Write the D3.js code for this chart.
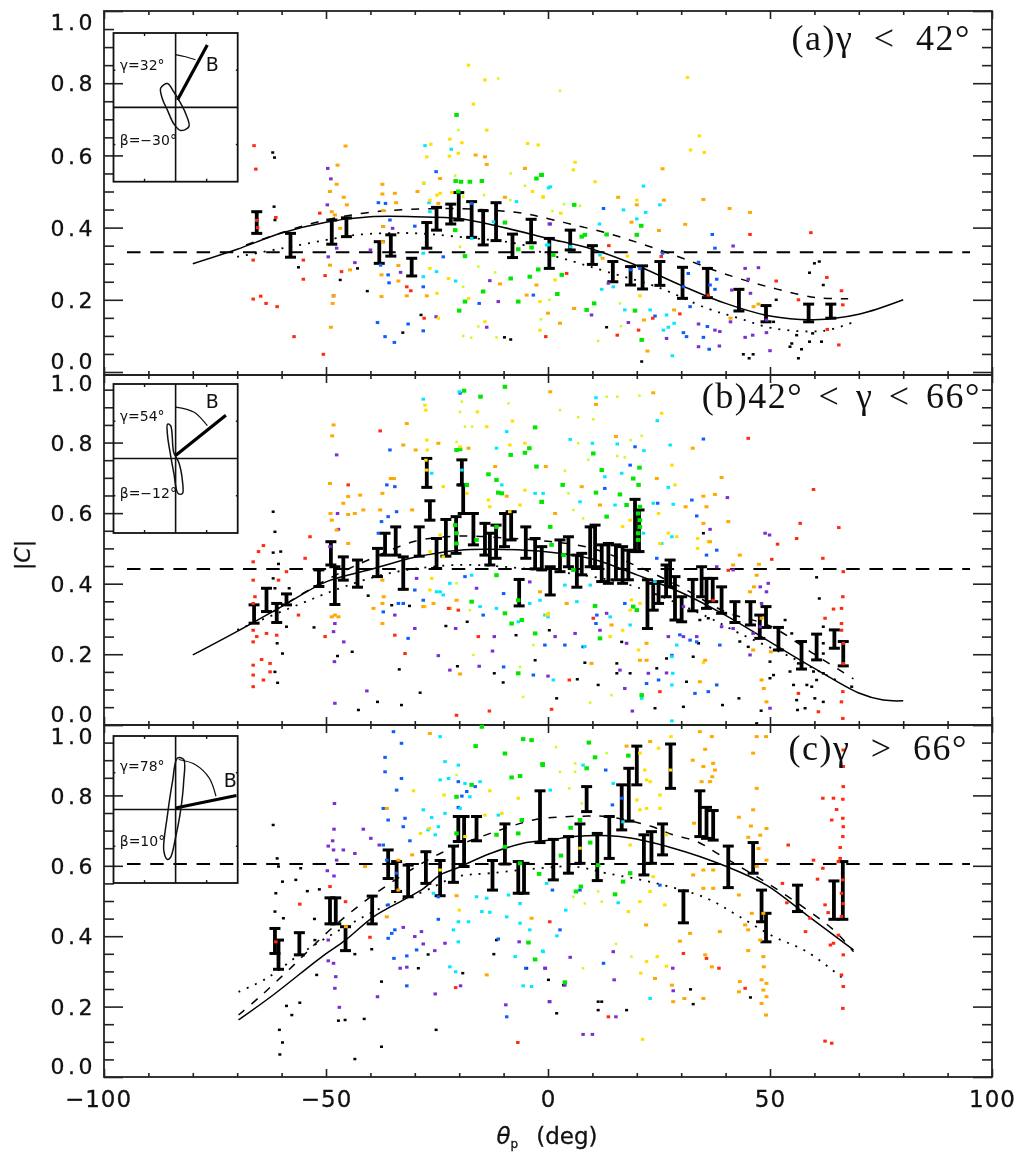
<!DOCTYPE html>
<html>
<head>
<meta charset="utf-8">
<script src="https://cdn.jsdelivr.net/npm/d3@7"></script>
<style>
  html, body { margin: 0; background: #fff; }
  svg { display: block; filter: blur(.45px); }
  text { fill: #111; }
  .lab text, text.lab { font-family: "DejaVu Sans", sans-serif; font-size: 22px; stroke: #111; stroke-width: .3px; }
  .ttl { font-family: "Liberation Serif", serif; font-size: 36px; text-anchor: end; letter-spacing: 1.5px; }
  .ins { font-family: "DejaVu Sans", sans-serif; font-size: 14px; }
</style>
</head>
<body>
<svg id="chart" width="1027" height="1152"></svg>
<script>
// error bars: theta, top, bottom
const aBars = [[-65.6,.444,.384],[-58,.384,.318],[-48.7,.421,.354],[-45.4,.427,.375],[-38,.361,.301],[-35.4,.38,.321],[-30.7,.315,.266],[-27.3,.414,.343],[-25.1,.456,.393],[-21.9,.465,.41],[-20.1,.497,.421],[-17.2,.472,.373],[-14.6,.447,.352],[-11.7,.469,.364],[-8,.382,.317],[-3.8,.423,.358],[.3,.37,.287],[5,.393,.338],[10,.35,.298],[14.6,.306,.25],[18.6,.292,.241],[21.3,.294,.23],[25.2,.306,.24],[30.3,.29,.204],[35.9,.287,.206],[43,.229,.169],[49.1,.184,.139],[58.7,.188,.139],[63.7,.188,.149]];
const bBars = [[-66.2,.34,.288],[-63.4,.387,.321],[-61.1,.344,.29],[-58.9,.371,.34],[-51.6,.439,.392],[-48.9,.519,.453],[-48,.448,.341],[-46.1,.476,.41],[-42.9,.467,.39],[-38.4,.5,.42],[-36.7,.543,.481],[-34.3,.561,.481],[-32.6,.476,.384],[-29,.561,.478],[-25.1,.528,.443],[-27.3,.755,.673],[-26.6,.635,.58],[-23,.582,.478],[-20.7,.59,.486],[-19.4,.751,.68],[-19.1,.68,.599],[-16.8,.599,.51],[-14.2,.571,.481],[-13.1,.543,.453],[-11.7,.566,.472],[-9.8,.599,.505],[-8.3,.604,.524],[-6.5,.412,.337],[-5,.561,.472],[-2.9,.528,.442],[-1.4,.505,.439],[.5,.448,.368],[2.7,.524,.434],[4.6,.533,.448],[6.5,.481,.39],[7.6,.486,.425],[9.5,.561,.448],[10.6,.566,.448],[12.1,.51,.406],[13.6,.514,.401],[15.3,.51,.411],[16.8,.505,.401],[18.1,.495,.411],[19.6,.639,.491],[20.5,.609,.491],[22.4,.411,.273],[23.7,.401,.325],[24.9,.406,.344],[26.6,.453,.363],[27.5,.467,.391],[28.6,.42,.297],[30.1,.363,.292],[32.6,.412,.323],[34.6,.448,.363],[35.7,.415,.33],[37.1,.415,.349],[39.1,.391,.316],[42.1,.349,.29],[45.6,.349,.283],[47.7,.311,.245],[49.1,.335,.276],[51.9,.276,.212],[57.1,.236,.158],[60.5,.257,.184],[64.5,.269,.217],[66.5,.236,.167]];
const cBars = [[-61.5,.422,.351],[-60.7,.389,.306],[-56,.41,.347],[-49.1,.509,.435],[-47.8,.509,.435],[-45.6,.427,.359],[-39.6,.514,.435],[-36,.645,.564],[-34.1,.612,.527],[-31.5,.602,.512],[-27.5,.64,.55],[-24.3,.615,.515],[-21.3,.656,.553],[-20.2,.74,.669],[-18.9,.74,.598],[-16.1,.74,.671],[-12.5,.615,.531],[-9.7,.719,.605],[-6.7,.612,.522],[-5.4,.607,.522],[-1.8,.813,.666],[1.2,.675,.56],[4.6,.683,.579],[7.2,.719,.607],[8.7,.825,.754],[11.1,.692,.558],[13.8,.74,.621],[16.6,.83,.702],[18.2,.877,.727],[20,.94,.83],[21.6,.688,.574],[23.3,.697,.607],[25.8,.719,.631],[27.6,.946,.82],[30.5,.529,.438],[34.2,.813,.683],[35.7,.766,.678],[37.2,.757,.673],[40.6,.656,.538],[46.2,.666,.579],[48.1,.531,.441],[49.1,.465,.384],[56.2,.545,.47],[64.4,.557,.448],[66.4,.612,.448]];

// model curves
const aSolid = [[-80,.3],[-70,.34],[-60,.385],[-50,.415],[-40,.43],[-30,.43],[-20,.425],[-10,.4],[0,.37],[10,.34],[20,.295],[30,.24],[40,.19],[50,.155],[60,.145],[70,.16],[80,.2]];
const aDash = [[-68,.352],[-53.6,.41],[-41.6,.44],[-31.8,.45],[-19,.452],[-5.6,.44],[-1.8,.43],[5,.41],[13.2,.385],[20.6,.357],[29.7,.318],[39.5,.273],[50.8,.232],[60.5,.206],[67.6,.203]];
const aDot = [[-70,.319],[-58,.347],[-48,.37],[-43,.38],[-31.8,.385],[-20.6,.375],[-5.6,.352],[-1.8,.333],[5.7,.306],[13.2,.278],[24.5,.236],[35.7,.177],[43,.149],[50.8,.121],[62,.114],[68.7,.138]];
const bSolid = [[-80,.198],[-70,.265],[-60,.335],[-50,.405],[-40,.44],[-30,.475],[-20,.495],[-10,.497],[0,.49],[10,.47],[20,.425],[30,.375],[40,.31],[50,.235],[60,.16],[70,.09],[75.5,.07],[80,.068]];
const bDash = [[-62,.32],[-50,.41],[-40,.47],[-30,.52],[-20,.535],[-10,.53],[0,.52],[10,.5],[20,.45],[30,.39],[40,.32],[50,.28],[60,.2],[68.8,.13]];
const bDot = [[-70,.269],[-53.6,.354],[-46,.391],[-35.6,.43],[-20.6,.453],[-5.6,.443],[10,.42],[20,.39],[35.7,.307],[43,.26],[54.5,.193],[66,.12]];
const cSolid = [[-69.7,.162],[-61.9,.233],[-50.6,.345],[-45.6,.389],[-39.3,.455],[-31.8,.508],[-28,.536],[-24.3,.574],[-20.6,.593],[-13,.635],[-5.6,.664],[.5,.673],[5.7,.683],[16.2,.683],[28.2,.65],[40.2,.598],[49.2,.545],[58.3,.46],[68.8,.361]];
const cDash = [[-69.7,.176],[-64.9,.228],[-58,.309],[-48.3,.427],[-37.8,.531],[-24.3,.635],[-13,.692],[-3.3,.73],[1.9,.738],[7.9,.741],[13.2,.74],[23,.713],[28.2,.688],[33.5,.669],[38.7,.631],[47,.569],[52.3,.527],[64.3,.418],[68.8,.356]];
const cDot = [[-69.7,.242],[-63.4,.28],[-54.4,.361],[-37,.484],[-28,.527],[-20.6,.569],[-13,.579],[-1.8,.593],[5.7,.598],[13.2,.579],[24.5,.55],[35.7,.508],[43.2,.455],[50.8,.399],[58.3,.356],[67.3,.271]];

// scatter, panel a
const aRed = [[-66.2,.627],[-65.8,.562],[-66.4,.31],[-66.4,.202],[-64.7,.21],[-63.5,.19],[-61,.181],[-57.2,.098],[-50.6,.049],[-51.4,.44],[-61.3,.428],[-55.1,.31],[-55.1,.257],[-50.2,.267],[-46.5,.278],[-31.8,.236],[-30.9,.225],[-27.9,.149],[-.5,.098],[4.2,.273],[13.7,.35],[15.6,.102],[20.4,.116],[23.6,.149],[25.5,.32],[29.7,.161],[36.1,.213],[45.5,.381],[51.4,.252],[56.4,.2],[59.2,.386],[62.8,.262],[66.1,.225],[66.4,.186],[65.5,.075],[62.9,.118],[-65.6,.42],[-65.4,.4]];
const aOrange = [[-45.6,.626],[-47.4,.573],[-47.6,.52],[-49.1,.5],[-46,.484],[-45.3,.463],[-48.7,.444],[-48,.435],[-46.8,.398],[-49.1,.296],[-44.6,.283],[-48.3,.211],[-48.5,.19],[-48.9,.124],[-37.3,.52],[-37.3,.493],[-34.5,.495],[-34.2,.469],[-37.1,.447],[-37.1,.403],[-37.2,.361],[-37.5,.269],[-37.5,.209],[-33.7,.295],[-33.7,.252],[-31.8,.211],[-29.4,.5],[-27.3,.211],[-24.3,.536],[-24.7,.467],[-16.3,.601],[-13.8,.575],[-14.2,.596],[-9.7,.484],[-5.2,.564],[-10.8,.244],[-2.6,.241],[-4.8,.213],[0,.163],[2.7,.135],[5.9,.176],[12.3,.315],[15.8,.484],[20,.463],[18.8,.415],[25,.392],[26.1,.476],[25.8,.563],[35,.478],[30.9,.409],[40.9,.453],[45.5,.442],[28.4,.172],[21.6,.144],[22.4,.058],[46.3,.181],[47.4,.188],[41.1,.149]];
const aYellow = [[-17.9,.85],[-14.2,.809],[-16.8,.742],[-13.8,.67],[-22.1,.645],[-19.4,.635],[-20.2,.606],[-22.2,.598],[-27.3,.596],[-26.4,.631],[-4.6,.633],[-2.2,.629],[-28,.523],[-24.3,.495],[-25,.49],[-21.7,.497],[-26.6,.476],[-3.5,.5],[-1.1,.486],[-26.6,.287],[-22.4,.259],[-25,.218],[-24.7,.149],[-17.9,.204],[-1.8,.195],[-1.8,.116],[-14.2,.139],[6.1,.581],[5.7,.56],[-1.1,.484],[2.9,.44],[10.6,.527],[1.6,.255],[20,.476],[20.7,.211],[17.9,.321],[31.4,.816],[34.1,.654],[32.1,.615],[35.2,.608]];
const aLime = [[-11.2,.813],[-20.2,.67],[-20.9,.544],[-19.1,.486],[-8.4,.55],[-5.2,.516],[-14.4,.49],[-8.5,.476],[-19.1,.236],[-11.9,.276],[-15.7,.292],[-15.7,.126],[-19.1,.1],[-17.3,.095],[-11.6,.096],[-19.8,.347],[2.7,.779],[3.6,.465],[1,.446],[7.2,.46],[.3,.2],[-1.6,.146],[11.3,.086],[16.4,.127],[16.2,.19]];
const aGreen = [[-20.6,.712],[-20.8,.529],[-19.6,.527],[-17.6,.527],[-14.9,.529],[-20.2,.5],[-1.4,.546],[-2.6,.536],[-9.7,.414],[-20.9,.393],[-18.7,.195],[-20,.17],[-6.7,.195],[-14.6,.223],[-8.4,.259],[-4.1,.264],[-2.2,.284],[-6.7,.34],[-3.7,.345],[-18.7,.321],[-1.5,.546],[5.9,.463],[7.6,.375],[8.3,.38],[13.2,.381],[21,.405],[20,.38],[3.1,.269],[1.2,.324],[2.1,.216],[10.4,.19],[8.7,.172],[19.6,.17],[21.1,.089]];
const aCyan = [[-27.7,.627],[-21.8,.617],[-28,.523],[-26.8,.469],[-26.6,.444],[-7.1,.472],[-5.2,.564],[.1,.51],[-17.2,.37],[-12.3,.416],[-28.1,.329],[-25.1,.278],[-28.1,.264],[-20.8,.252],[.1,.352],[.5,.513],[-.3,.352],[21.5,.515],[25.2,.463],[17,.449],[22,.442],[11.6,.41],[20,.424],[5.1,.347],[11.7,.324],[12.1,.229],[14.7,.236],[17.3,.172],[23,.172],[26,.116],[27.1,.124],[28.4,.135],[28,.045],[26.7,.158]];
const aBlue = [[-25.2,.555],[-38.2,.469],[-36.6,.467],[-37.1,.403],[-30,.404],[-35.6,.421],[-17.2,.467],[-37.7,.296],[-36,.269],[-35.8,.247],[-28.1,.236],[-15.5,.19],[-38.4,.137],[-36.7,.098],[-34.6,.082],[-28.1,.114],[-31.5,.133],[-3.3,.213],[-23.6,.319],[12.5,.453],[37,.381],[37.6,.343],[33.9,.304],[31.6,.273],[30.5,.236],[25.8,.329],[18.6,.283],[20.7,.287],[24.1,.155],[30.5,.109],[31.2,.098],[35.9,.126],[36.3,.063],[35,.096],[32,.181],[37.6,.229],[36.5,.241],[38,.257]];
const aPurple = [[-49.6,.564],[-48.9,.535],[-49.7,.463],[-47.6,.343],[-49.5,.319],[-43.5,.303],[-48.3,.211],[-35,.398],[-40,.338],[-33.2,.276],[-25.2,.153],[-13.8,.124],[-11.2,.195],[-13.1,.253],[.3,.41],[41.7,.349],[44.4,.287],[47.4,.289],[45.1,.257],[45.6,.218],[41.4,.227],[41.1,.139],[44.4,.096],[46.1,.102],[50,.059],[38.7,.112],[37.6,.116],[33.9,.07],[38.6,.072],[33.9,.133],[18.1,.137],[26.7,.093],[13.6,.246],[5.9,.176],[9.8,.158],[.5,.41],[49.2,.144],[49.2,.109]];
const aBlack = [[-62,.608],[-61.6,.594],[-61.7,.458],[-61.5,.421],[-56.2,.29],[-46.8,.255],[-42.9,.287],[-40.7,.224],[-32.7,.109],[-28.6,.158],[-9.8,.096],[-8.4,.09],[13.2,.124],[21.1,.029],[44,.049],[45.3,.038],[46.2,.049],[56.4,.038],[57.1,.063],[54.5,.07],[58.9,.084],[61.6,.084],[56,.102],[62,.241],[58.9,.275],[60,.301],[61.1,.306],[51.4,.2],[50.8,.139],[54.9,.079],[59.6,.107]];

// scatter, panel b
const bRed = [[-66.4,.462],[-65.2,.491],[-64.1,.508],[-66.4,.41],[-66,.363],[-66.4,.344],[-66.4,.268],[-65.6,.25],[-66.4,.235],[-66.4,.169],[-66.4,.141],[-66.4,.108],[-64.5,.185],[-62.6,.174],[-64.1,.127],[-62.6,.15],[-63.4,.259],[-61.1,.254],[-60.7,.41],[-58.9,.434],[-56.2,.311],[-50.2,.25],[-53.6,.533],[-54.7,.472],[-37.8,.833],[-45,.68],[-34.5,.254],[-32.2,.202],[-20.6,.027],[-13.2,.039],[-15.7,.25],[-22.4,.33],[-20.2,.325],[45.1,.812],[59.8,.667],[56.8,.571],[56,.528],[51.7,.512],[50.4,.469],[65.5,.559],[61.9,.472],[66.5,.434],[66.4,.363],[64.3,.328],[66.1,.33],[62.4,.302],[66.1,.287],[66.1,.268],[66.5,.231],[66.5,.174],[66.4,.094],[66.1,.065],[66.4,.018],[60.9,.037],[56.4,.089],[10.2,.302],[.8,.044],[4.8,.127],[37.2,.353],[40.6,.438],[25.2,.094]];
const bOrange = [[-48.3,.85],[-48.6,.819],[-49.1,.684],[-49,.599],[-48.7,.58],[-47.6,.552],[-45,.647],[-46.1,.628],[-42.3,.651],[-45,.596],[-43.5,.599],[-41.6,.609],[-45,.514],[-48,.311],[-48.7,.306],[-47.2,.306],[-37.3,.656],[-37.8,.609],[-35.4,.698],[-34.7,.698],[-30.6,.609],[-29.8,.779],[-37.3,.41],[-37,.363],[-37.3,.344],[-39.3,.33],[-37.3,.287],[-31.8,.854],[-32.6,.793],[-24.7,.798],[-17.9,.784],[-11.9,.732],[-9.3,.648],[-19.8,.144],[-20.6,.353],[-1.8,.377],[-28.1,.335],[-25.8,.344],[-22.1,.33],[.5,.944],[23.7,.941],[15.3,.817],[10.8,.908],[7.6,.675],[-.5,.732],[1.6,.599],[11.7,.623],[24.5,.698],[39.1,.701],[32.6,.784],[35,.648],[37.6,.653],[31,.618],[35.7,.618],[40.6,.576],[35,.571],[36.5,.519],[41.7,.453],[43.2,.481],[47.5,.455],[47,.424],[46.4,.391],[45.5,.377],[48.1,.302],[46.2,.212],[50.2,.207],[49.2,.065],[48.1,.127],[48.6,.103],[35.4,.183],[34.2,.122],[9.8,.174],[22.2,.231],[22.2,.183],[20.7,.183],[4.2,.344],[14.3,.283]];
const bYellow = [[-27.7,.906],[-27.5,.892],[-27.3,.807],[-27.2,.779],[-27.5,.75],[-27.3,.722],[-13.8,.845],[-8.6,.793],[-8,.861],[-13.4,.637],[-13.1,.618],[-23.6,.675],[-24.3,.538],[-26.6,.491],[-26.2,.415],[-26.6,.382],[-27.7,.335],[-23.6,.476],[-18.3,.656],[-15.9,.887],[-19.8,.788],[-8.6,.604],[-6.3,.623],[-5.2,.665],[-5.2,.798],[.1,.316],[18.5,.58],[16.8,.562],[25.6,.883],[27.1,.543],[29,.533],[25.2,.514],[36.1,.519],[33.7,.5],[33.7,.528],[18.8,.354],[18.5,.325],[20.7,.344],[16.8,.268],[14,.25],[20.4,.212],[35,.176],[-.3,.311],[24.9,.599],[27.9,.736],[28.6,.68]];
const bLime = [[-19.4,.916],[-19.8,.887],[-18.7,.845],[-20.6,.802],[-17.1,.845],[-8.9,.911],[-20.6,.401],[-17.6,.325],[-16.8,.198],[-6.3,.164],[-5.6,.079],[-3.3,.226],[13.2,.93],[15.6,.93],[20.6,.933],[2.7,.892],[6.8,.872],[10.2,.866],[21.1,.819],[18.6,.807],[6.8,.798],[9.1,.751],[15.6,.762],[17.3,.758],[3.8,.72],[4.6,.656],[5.7,.609],[7.9,.585],[9.5,.063],[14.3,.084]];
const bGreen = [[-9.7,.958],[-15.2,.93],[-18.9,.947],[-2.9,.843],[-4.2,.784],[-5.2,.771],[-8.4,.765],[-2.6,.732],[-19.8,.781],[-20.6,.779],[-11.6,.694],[-13.4,.71],[-11.2,.658],[-10.4,.656],[-1.4,.632],[-20.9,.566],[-20.6,.543],[-18.3,.68],[-16.1,.524],[-11.6,.561],[-6.7,.353],[-5.9,.297],[-8.2,.287],[-2.9,.259],[-11.6,.424],[-6.7,.146],[-20.6,.514],[-17.2,.349],[-9.7,.316],[10.2,.769],[12.1,.722],[20.6,.729],[19.2,.698],[20.4,.68],[3.3,.68],[16.2,.653],[10.8,.658],[17.7,.623],[13.2,.59],[-1.4,.632],[.5,.561],[20.7,.561],[20.3,.543],[20.3,.524],[20.3,.599],[20.7,.618],[20.7,.58],[.8,.51],[3.5,.481],[5.7,.439],[10.6,.337],[11.7,.245],[20,.325],[19.2,.335],[21.1,.084]];
const bCyan = [[-28.1,.923],[-20,.944],[-9.3,.831],[-19.4,.722],[-10.4,.68],[-1.1,.656],[-2.9,.656],[-11.6,.784],[-24.3,.377],[-25.1,.377],[-23.6,.368],[-22.1,.401],[-17.2,.424],[-26.2,.713],[-1.8,.353],[-4.1,.344],[-6.7,.292],[-15.3,.335],[-11.6,.33],[-.7,.311],[10.8,.927],[24.6,.862],[5,.809],[10,.798],[15.6,.796],[21.6,.777],[27.5,.793],[27.1,.673],[12.8,.703],[16.6,.713],[7.2,.632],[28.2,.625],[15.1,.623],[23.7,.628],[21.5,.543],[25.6,.514],[27.9,.533],[9.5,.396],[6.5,.349],[14,.306],[18.5,.283],[8.3,.222],[28.1,.146],[27.9,.113],[21.1,.075],[1.2,.127],[27.9,.011],[24.1,.406],[29,.226],[0,.306],[3.8,.396],[27.9,.193]];
const bBlue = [[-35.6,.779],[-36.3,.68],[-34.5,.675],[-37.5,.576],[-38.2,.543],[-36,.59],[-34.1,.604],[-19.8,.94],[-37.1,.32],[-33.7,.344],[-32.6,.344],[-31.5,.245],[-30,.382],[-28.1,.353],[-14.6,.311],[-10,.164],[-3.3,.141],[-.7,.226],[-18.7,.42],[-10,.372],[35,.81],[3.8,.226],[7.9,.221],[11,.311],[10.8,.287],[19.6,.788],[12.8,.67],[18.5,.736],[24.7,.628],[32.4,.637],[33.5,.592],[38,.495],[35.7,.481],[29.7,.255],[32,.24],[33.5,.235],[36.1,.094],[38,.113],[27.9,.197],[22.2,.117],[24.9,.127],[38.7,.226],[17.3,.344],[33.1,.089],[24.5,.472]];
const bPurple = [[-47.6,.765],[-47.4,.599],[-47.2,.554],[-49.1,.505],[-48.1,.179],[-48.3,.264],[-48,.287],[-46,.235],[-48,.061],[-40.8,.096],[-24.7,.196],[-22.1,.155],[-15.5,.166],[-12.1,.25],[-12.5,.209],[-20.8,.273],[-30,.273],[-34.5,.311],[-29.6,.415],[-16.1,.387],[-4.1,.405],[40.4,.644],[48.9,.543],[49.9,.538],[36.5,.554],[41.7,.439],[38,.448],[47.8,.391],[49.6,.401],[49.2,.377],[48.1,.344],[47.8,.278],[46.2,.259],[0,.138],[19,.039],[50,.047],[13.2,.316],[11.7,.268],[6.1,.259],[1.6,.25],[26.7,.147],[22.6,.146],[16.2,.155],[41.7,.273],[30.5,.25],[33.5,.25],[17.7,.231],[17.3,.103],[27.1,.25],[30.5,.335],[39.1,.278],[45.5,.198]];
const bBlack = [[-61.9,.604],[-61.5,.547],[-60.2,.491],[-61.9,.488],[-60.7,.456],[-61.9,.415],[-61.5,.387],[-58.3,.387],[-61.1,.344],[-58.9,.278],[-61,.231],[-59.8,.202],[-61.5,.15],[-60.9,.119],[-52.7,.276],[-47.4,.195],[-44.1,.207],[-40.5,.366],[-35.2,.339],[-31.2,.337],[-33.5,.157],[-38.4,.065],[-33,.056],[-28.8,.091],[-42.7,.042],[-23,.28],[-18.2,.292],[-20.4,.166],[-12.1,.146],[-10.1,.12],[-7.2,.254],[-2.9,.183],[.3,.268],[8.3,.176],[6.6,.129],[11.3,.113],[1.95,.075],[24.1,.047],[30.5,.051],[39.3,.056],[43,.075],[47,.004],[48,.04],[31.2,.122],[15.5,.174],[15.5,.146],[18.5,.146],[24.5,.16],[26.7,.188],[32.7,.193],[33.9,.231],[35,.543],[36.1,.302],[34.2,.297],[43.2,.236],[45.1,.221],[50,.179],[50.8,.141],[50,.132],[54.5,.151],[55.3,.113],[58.3,.113],[59.4,.108],[60.5,.127],[56,.07],[60.1,.075],[62,.065],[56.2,.042],[57.9,.047],[60.5,.418],[61.1,.358],[62,.278],[62,.231],[62,.202],[53.4,.297],[54.9,.259],[59.8,.151],[62,.146],[56.4,.174],[68.4,.108],[16.6,.235]];

// scatter, panel c
const cRed = [[-49.1,.541],[-45.6,.498],[-55.9,.491],[-40.1,.397],[-61.3,.384],[-20.8,.254],[-6.8,.098],[.4,.441],[13.6,.171],[30.5,.351],[35.7,.337],[38.5,.309],[44.4,.252],[54.1,.659],[52.8,.55],[59.8,.616],[61.9,.792],[64.3,.792],[66.4,.789],[65,.76],[63.9,.73],[66.4,.735],[66.5,.825],[66.5,.882],[66.5,.929],[66.5,.711],[66.4,.683],[65.8,.652],[65.8,.621],[65.4,.612],[61.9,.593],[60.7,.562],[62.4,.489],[63.1,.467],[66.4,.56],[66.1,.522],[66.5,.493],[66.1,.456],[59,.451],[58,.413],[53.8,.495],[65.4,.403],[64.3,.38],[63.6,.375],[66.5,.347],[66.1,.29],[66.5,.257],[66.4,.195],[62.4,.102],[63.9,.096]];
const cOrange = [[34.2,.981],[36.9,.967],[35.4,.931],[47,.967],[49.1,.967],[46.2,.92],[32.6,.9],[35,.882],[37.2,.891],[37.6,.872],[37,.853],[36.5,.839],[34.6,.839],[47,.82],[46.2,.759],[43,.738],[45.7,.713],[49.2,.706],[47.8,.687],[45.1,.681],[47.4,.649],[32.9,.721],[32.7,.574],[37.2,.588],[35,.588],[37.2,.536],[35,.536],[43,.517],[44.4,.432],[45.1,.418],[45.9,.465],[48.5,.465],[47.8,.389],[38.7,.413],[29.7,.386],[32,.408],[35.4,.347],[36.9,.313],[45.1,.359],[48.5,.342],[48.6,.313],[48.1,.276],[49.2,.266],[48.5,.247],[43.2,.271],[43,.242],[49.2,.228],[48.1,.209],[49.1,.176],[35,.223],[30.7,.223],[28.2,.214],[27.9,.261],[24.1,.28],[22.1,.432],[49.2,.616],[47,.598],[17.7,.94],[23,.953],[-26.6,.976],[-30.6,.631],[-36.3,.763],[-33.7,.616],[-33.7,.531],[-41.2,.598],[-20.6,.515],[-36.3,.455],[-13.8,.29],[-3.7,.451],[-45.5,.427]];
const cYellow = [[20.7,.92],[22.2,.844],[21.8,.872],[24.9,.934],[23,.839],[20,.787],[22.2,.763],[20.7,.759],[25.2,.763],[25.2,.801],[26.7,.688],[18.5,.659],[23.7,.569],[23,.527],[18.1,.47],[20.7,.498],[26.3,.489],[22.2,.328],[24.6,.342],[20.9,.295],[26.7,.315],[21.3,.107],[27.7,.967],[27.6,.872],[7.2,.65],[-30.3,.813],[-23.4,.801],[-26.7,.706],[-28.7,.692],[-24.3,.588],[-20,.474],[-13.1,.813],[-10.4,.749],[-6.7,.792],[-14.2,.744],[-18.7,.683]];
const cLime = [[1.8,.937],[6.1,.891],[13.2,.92],[2.7,.867],[4.8,.82],[7.6,.777],[12.1,.498],[8.3,.493],[5.7,.512],[11.3,.527],[15.3,.378],[18.8,.342],[7.9,.309],[6.1,.867],[-20.6,.858]];
const cGreen = [[-14.9,.995],[-16.3,.94],[-9.7,.919],[-5.6,.96],[-3.7,.957],[-1.2,.889],[-8.2,.851],[-6.3,.855],[-17.2,.83],[-20.6,.796],[-20.6,.692],[-11.6,.688],[-5.9,.73],[-6.7,.692],[-9.7,.654],[-6.3,.607],[-4.4,.382],[-2.9,.334],[-2,.577],[9.2,.95],[10.6,.908],[-1.2,.886],[18.1,.913],[8.7,.877],[5.1,.708],[7.2,.73],[9.5,.666],[2.9,.629],[6.3,.527],[7.4,.541],[15.1,.519],[11.3,.602],[16.9,.555],[18.5,.579],[3.8,.269]];
const cCyan = [[-24.3,.967],[-23.2,.896],[-20.2,.886],[-24.3,.844],[-22.4,.848],[-18.7,.834],[-28.1,.759],[-26.2,.737],[-24.7,.711],[-25.4,.688],[-27,.702],[-17.6,.796],[-15.3,.839],[-19.8,.763],[-23.2,.749],[-11.2,.744],[-16.1,.512],[-13.8,.508],[-14.9,.47],[-13.1,.468],[-9.3,.455],[-20.2,.441],[-17.9,.441],[-21.3,.418],[-20.2,.384],[-22.1,.313],[-20.8,.299],[-7.4,.342],[-6.3,.437],[-4.1,.418],[-5.6,.259],[-3.7,.257],[-1.1,.356],[-6.3,.493],[-25.8,.522],[-8.9,.517],[.5,.815],[7.9,.886],[14.7,.834],[16.9,.725],[15.8,.495],[4,.474],[2,.401],[-1.2,.358],[23,.223],[-.3,.55]];
const cBlue = [[-34.8,.981],[-33,.948],[-36.7,.908],[-36.7,.867],[-33,.848],[-34.1,.815],[-37.1,.763],[-32.2,.735],[-32.6,.711],[-36,.73],[-31.1,.671],[-37.1,.659],[-20.2,.839],[-18.3,.811],[-19.4,.798],[-16.4,.825],[-20.2,.766],[-36,.489],[-36.3,.616],[-34.1,.579],[-34.5,.418],[-35.2,.408],[-36,.394],[-34.7,.337],[-31.8,.344],[-29.6,.361],[-24.7,.448],[-31.8,.259],[-11.2,.392],[-5,.309],[-9.3,.171],[-24.7,.512],[13,.872],[14.5,.773],[1,.531],[7.2,.531],[2.7,.418],[12.5,.323],[25.2,.545],[16.6,.792]];
const cPurple = [[-48.1,.777],[-48.2,.704],[-48.5,.671],[-49.5,.656],[-48.3,.645],[-46.1,.645],[-43.5,.635],[-41.6,.704],[-39.9,.678],[-38,.659],[-49.7,.586],[-48.2,.571],[-47.6,.616],[-49.5,.389],[-49.5,.33],[-48.3,.323],[-47.8,.285],[-48,.252],[-47,.198],[-38.4,.228],[-33.3,.309],[-31.8,.312],[-32.6,.425],[-30,.399],[-28.5,.413],[-28.1,.378],[-25.5,.359],[-23.2,.38],[-25.4,.236],[-19.7,.259],[-9.5,.205],[-6.5,.384],[-.6,.309],[.3,.214],[5,.34],[-.7,.309],[14.7,.356],[14.9,.276],[28.1,.309],[.4,.214],[3.8,.261],[15.3,.171],[7.9,.121],[10,.121],[28.2,.245]];
const cBlack = [[-61.9,.716],[-61,.621],[-60.7,.598],[-59.8,.555],[-61.3,.522],[-61.5,.47],[-59.6,.451],[-56.8,.56],[-55.7,.593],[-54.2,.528],[-51.5,.533],[-52.6,.449],[-52.5,.389],[-52.1,.29],[-55.9,.211],[-57.7,.176],[-58.9,.202],[-60.5,.134],[-59.8,.098],[-60.4,.064],[-47.2,.16],[-45.7,.162],[-41.4,.165],[-37.5,.086],[-43.5,.051],[-39.7,.363],[-43.5,.349],[-37.5,.271],[-29.2,.309],[-27,.348],[-25.2,.134],[-19.2,.295],[-12.2,.349],[-11.6,.389],[.1,.276],[-4.8,.309],[1.95,.181],[11.3,.214],[12.1,.214],[11.3,.19],[17.7,.19],[32.1,.249],[32.7,.207],[45.6,.226],[3.5,.261]];

// inset sketches: B vector, angle arc, pitch-angle loop
const aVector = [[.03,.1],[.51,.84]];
const aArc = [[0,.71],[.16,.68],[.32,.64]];
const aLoop = [[-.24,.26],[-.13,.32],[-.03,.21],[.05,.1],[.16,-.08],[.215,-.26],[.08,-.31],[-.03,-.22],[-.13,-.04],[-.215,.12]];
const bVector = [[0,.04],[.81,.58]];
const bArc = [[0,.69],[.3,.62],[.51,.44]];
const bLoop = [[-.13,.46],[-.08,.44],[-.03,.08],[.05,-.05],[.11,-.3],[.11,-.47],[.04,-.47],[-.03,-.19],[-.08,.04],[-.13,.31]];
const cVector = [[0,.02],[.98,.19]];
const cArc = [[.05,.68],[.32,.61],[.54,.43],[.65,.18]];
const cLoop = [[.03,.7],[.13,.68],[.13,.38],[.08,-.02],[0,-.38],[-.08,-.65],[-.13,-.68],[-.19,-.56],[-.13,-.07],[-.05,.38]];

const xTicks = [-100, -50, 0, 50, 100];
const xMinor = [-90,-80,-70,-60,-40,-30,-20,-10,10,20,30,40,60,70,80,90];
const yTicks = [0, .2, .4, .6, .8, 1];
const yMinor = [.05,.1,.15,.25,.3,.35,.45,.5,.55,.65,.7,.75,.85,.9,.95];

const colors = { black:'#000', purple:'#7a2fd0', blue:'#0f5cff', cyan:'#00e8ff', green:'#00e600', lime:'#c4ff20', yellow:'#ffdf00', orange:'#ffa800', red:'#ff2a10' };
const dotSize = { black:[3,2.5], purple:[3.5,3], blue:[3.5,3], cyan:[3.5,3], green:[4.5,4], lime:[2.5,2.5], yellow:[3.5,3], orange:[4,3], red:[3.5,3] };

const panels = [
  { top:11, bottom:375, y0:372, y1:11, line:.3315, title:'(a)γ < 42°', titleX:971, titleY:50, wordGap:10, bars:aBars, solid:aSolid, dash:aDash, dot:aDot,
    dots:{ black:aBlack, purple:aPurple, blue:aBlue, cyan:aCyan, green:aGreen, lime:aLime, yellow:aYellow, orange:aOrange, red:aRed },
    insetTop:33, insetBottom:181.7, vector:aVector, arc:aArc, loop:aLoop, gamma:'γ=32°', beta:'β=−30°', b:[.59,.59], gy:.5, by:-.5 },
  { top:375, bottom:725, y0:724.8, y1:372, line:.4416, title:'(b)42° < γ < 66°', titleX:981, titleY:408, wordGap:5, bars:bBars, solid:bSolid, dash:bDash, dot:bDot,
    dots:{ black:bBlack, purple:bPurple, blue:bBlue, cyan:bCyan, green:bGreen, lime:bLime, yellow:bYellow, orange:bOrange, red:bRed },
    insetTop:384, insetBottom:533, vector:bVector, arc:bArc, loop:bLoop, gamma:'γ=54°', beta:'β=−12°', b:[.59,.78], gy:.5, by:-.53 },
  { top:725, bottom:1077, y0:1077, y1:725, line:.605, title:'(c)γ > 66°', titleX:968, titleY:760, wordGap:10, bars:cBars, solid:cSolid, dash:cDash, dot:cDot,
    dots:{ black:cBlack, purple:cPurple, blue:cBlue, cyan:cCyan, green:cGreen, lime:cLime, yellow:cYellow, orange:cOrange, red:cRed },
    insetTop:736, insetBottom:883, vector:cVector, arc:cArc, loop:cLoop, gamma:'γ=78°', beta:'β=10°', b:[.88,.41], gy:.53, by:-.5 }
];

const svg = d3.select('#chart');
const left = 104, right = 992;
const x = d3.scaleLinear().domain([-100, 100]).range([left, right]);
const insetX = d3.scaleLinear().domain([-1, 1]).range([113.5, 237.7]);

function drawAxes(g, axis) {
  g.call(axis);
  g.select('.domain').remove();
  g.selectAll('line').attr('stroke', '#222').attr('stroke-width', 1.6);
}

panels.forEach(function(p, i) {
  let g = svg.append('g');
  let y = d3.scaleLinear().domain([0, 1]).range([p.y0, p.y1]);
  let line = d3.line().x(d => x(d[0])).y(d => y(d[1])).curve(d3.curveCatmullRom);

  // frame and ticks
  g.append('rect').attr('x', left).attr('y', p.top).attr('width', right - left).attr('height', p.bottom - p.top)
    .attr('fill', 'none').attr('stroke', '#222').attr('stroke-width', 1.8);

  let onFrame = yTicks.filter(v => y(v) >= p.top - .5 && y(v) <= p.bottom + .5);
  let leftAxis = d3.axisLeft(y).tickValues(onFrame).tickFormat(d3.format('.1f')).tickSizeInner(-19).tickSizeOuter(0).tickPadding(8);
  let lg = g.append('g').attr('class', 'lab').attr('transform', 'translate(' + left + ',0)');
  drawAxes(lg, leftAxis);
  lg.selectAll('text').style('letter-spacing', '3.5px').attr('dy', d => d === 1 ? '.85em' : d === 0 ? '-.14em' : '.35em');
  // the tick at 1.0 in panel b sits just above the frame, its label is still printed
  if (i === 1) {
    lg.append('text').attr('x', -8).attr('y', 391).attr('text-anchor', 'end').attr('fill', '#111')
      .style('letter-spacing', '3.5px').text('1.0');
  }
  drawAxes(g.append('g').attr('transform', 'translate(' + left + ',0)'),
    d3.axisLeft(y).tickValues(yMinor).tickFormat('').tickSizeInner(-10).tickSizeOuter(0));
  drawAxes(g.append('g').attr('transform', 'translate(' + right + ',0)'),
    d3.axisRight(y).tickValues(onFrame).tickFormat('').tickSizeInner(-19).tickSizeOuter(0));
  drawAxes(g.append('g').attr('transform', 'translate(' + right + ',0)'),
    d3.axisRight(y).tickValues(yMinor).tickFormat('').tickSizeInner(-10).tickSizeOuter(0));

  drawAxes(g.append('g').attr('transform', 'translate(0,' + p.top + ')'),
    d3.axisTop(x).tickValues(xTicks).tickFormat('').tickSizeInner(-8).tickSizeOuter(0));
  drawAxes(g.append('g').attr('transform', 'translate(0,' + p.top + ')'),
    d3.axisTop(x).tickValues(xMinor).tickFormat('').tickSizeInner(-4).tickSizeOuter(0));
  let bottomAxis = d3.axisBottom(x).tickValues(xTicks).tickSizeInner(-8).tickSizeOuter(0).tickPadding(14).tickFormat(d => d3.format('d')(d).replace('-', '−'));
  if (i < 2) bottomAxis.tickFormat('');
  let bg = g.append('g').attr('class', 'lab').attr('transform', 'translate(0,' + p.bottom + ')');
  drawAxes(bg, bottomAxis);
  bg.selectAll('text').style('font-size', '23px').style('letter-spacing', '1px')
    .attr('dx', d => d === -100 ? -6 : 0);
  drawAxes(g.append('g').attr('transform', 'translate(0,' + p.bottom + ')'),
    d3.axisBottom(x).tickValues(xMinor).tickFormat('').tickSizeInner(-4).tickSizeOuter(0));

  // reference level
  g.append('line').attr('x1', 127).attr('x2', 970).attr('y1', y(p.line)).attr('y2', y(p.line))
    .attr('stroke', '#000').attr('stroke-width', 2).attr('stroke-dasharray', '13.5,9.7');

  // error bars
  let bars = g.append('g').selectAll('g').data(p.bars).join('g');
  bars.append('line').attr('x1', d => x(d[0])).attr('x2', d => x(d[0])).attr('y1', d => y(d[1])).attr('y2', d => y(d[2]))
    .attr('stroke', '#000').attr('stroke-width', 3.8);
  [1, 2].forEach(function(k) {
    bars.append('line').attr('x1', d => x(d[0]) - 5.5).attr('x2', d => x(d[0]) + 5.5).attr('y1', d => y(d[k])).attr('y2', d => y(d[k]))
      .attr('stroke', '#000').attr('stroke-width', 3);
  });

  // curves
  g.append('path').attr('d', line(p.solid)).attr('fill', 'none').attr('stroke', '#000').attr('stroke-width', 1.5);
  g.append('path').attr('d', line(p.dash)).attr('fill', 'none').attr('stroke', '#000').attr('stroke-width', 1.5).attr('stroke-dasharray', '8,9');
  g.append('path').attr('d', line(p.dot)).attr('fill', 'none').attr('stroke', '#000').attr('stroke-width', 1.8).attr('stroke-dasharray', '2,7');

  // scatter
  Object.keys(p.dots).forEach(function(c) {
    g.append('g').attr('fill', colors[c]).selectAll('rect').data(p.dots[c]).join('rect')
      .attr('x', d => x(d[0]) - dotSize[c][0] / 2).attr('y', d => y(d[1]) - dotSize[c][1] / 2)
      .attr('width', dotSize[c][0]).attr('height', dotSize[c][1]);
  });

  // inset
  let inY = d3.scaleLinear().domain([-1, 1]).range([p.insetBottom, p.insetTop]);
  let inLine = d3.line().x(d => insetX(d[0])).y(d => inY(d[1]));
  let ins = g.append('g');
  ins.append('rect').attr('x', insetX(-1)).attr('y', inY(1)).attr('width', insetX(1) - insetX(-1)).attr('height', inY(-1) - inY(1))
    .attr('fill', 'none').attr('stroke', '#111').attr('stroke-width', 1.8);
  ins.append('path').attr('d', inLine([[-1,0],[1,0]])).attr('stroke', '#111').attr('stroke-width', 1.6);
  ins.append('path').attr('d', inLine([[0,-1],[0,1]])).attr('stroke', '#111').attr('stroke-width', 1.6);
  [-.5, .5].forEach(function(v) {
    ins.append('path').attr('d', inLine([[v,1],[v,.96]])).attr('stroke', '#111').attr('stroke-width', 1.4);
    ins.append('path').attr('d', inLine([[v,-1],[v,-.96]])).attr('stroke', '#111').attr('stroke-width', 1.4);
    ins.append('path').attr('d', inLine([[-1,v],[-.97,v]])).attr('stroke', '#111').attr('stroke-width', 1.4);
    ins.append('path').attr('d', inLine([[1,v],[.97,v]])).attr('stroke', '#111').attr('stroke-width', 1.4);
  });
  ins.append('path').attr('d', inLine(p.vector)).attr('stroke', '#000').attr('stroke-width', 3.2);
  ins.append('path').attr('d', inLine.curve(d3.curveCatmullRom)(p.arc)).attr('fill', 'none').attr('stroke', '#111').attr('stroke-width', 1.2);
  ins.append('path').attr('d', inLine.curve(d3.curveCatmullRomClosed)(p.loop)).attr('fill', 'none').attr('stroke', '#111').attr('stroke-width', 1.5);
  ins.append('text').attr('class', 'ins').attr('x', insetX(-.9)).attr('y', inY(p.gy)).text(p.gamma);
  ins.append('text').attr('class', 'ins').attr('x', insetX(-.9)).attr('y', inY(p.by)).text(p.beta);
  ins.append('text').attr('class', 'ins').attr('x', insetX(p.b[0])).attr('y', inY(p.b[1])).attr('text-anchor', 'middle').attr('dy', '.38em')
    .style('font-size', '19px').text('B');

  g.append('text').attr('class', 'ttl').attr('x', p.titleX).attr('y', p.titleY).style('word-spacing', p.wordGap + 'px').text(p.title);
});

svg.append('text').attr('class', 'lab').attr('transform', 'translate(30,555) rotate(-90)').attr('text-anchor', 'middle')
  .style('font-size', '22px').style('font-style', 'italic').text('|C|');
let xl = svg.append('text').attr('class', 'lab').attr('x', 547).attr('y', 1144).attr('text-anchor', 'middle').style('font-size', '23px');
xl.append('tspan').style('font-style', 'italic').text('θ');
xl.append('tspan').attr('dy', 4).style('font-size', '12px').text('p');
xl.append('tspan').attr('dy', -4).attr('dx', 18).text('(deg)');
</script>
</body>
</html>
